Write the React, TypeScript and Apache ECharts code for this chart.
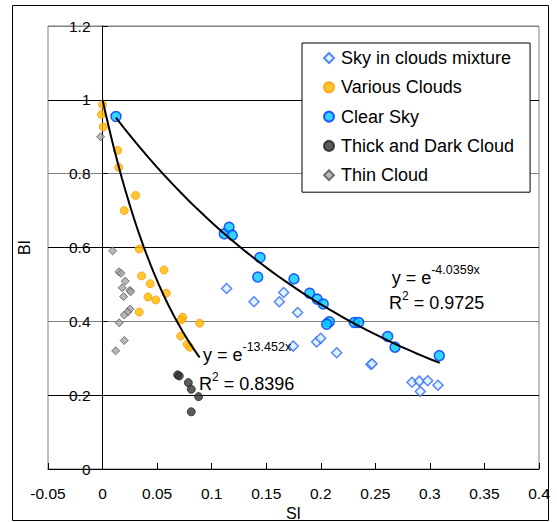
import React, { useEffect, useRef } from "react";
import * as echarts from "echarts";

// ---- data ----
const skyInCloudsMixture: [number, number][] = [
  [0.1137, 0.489], [0.1388, 0.453], [0.162, 0.453], [0.166, 0.478], [0.1788, 0.424],
  [0.1748, 0.333], [0.1962, 0.344], [0.1999, 0.354], [0.2146, 0.315], [0.246, 0.283],
  [0.247, 0.285], [0.2836, 0.235], [0.2903, 0.238], [0.298, 0.239], [0.3074, 0.227],
  [0.2912, 0.21],
];
const variousClouds: [number, number][] = [
  [0.0, 0.987], [-0.001, 0.96], [0.0006, 0.927], [0.0138, 0.863], [0.0148, 0.817],
  [0.0303, 0.741], [0.0199, 0.7], [0.0336, 0.596], [0.0358, 0.523], [0.0563, 0.539],
  [0.0437, 0.502], [0.0584, 0.476], [0.0416, 0.466], [0.0487, 0.458], [0.0336, 0.425],
  [0.0734, 0.411], [0.0721, 0.404], [0.089, 0.395], [0.0716, 0.36], [0.0776, 0.338],
  [0.0798, 0.33],
];
const clearSky: [number, number][] = [
  [0.0123, 0.955], [0.1116, 0.637], [0.116, 0.655], [0.1189, 0.633], [0.1443, 0.573],
  [0.1422, 0.52], [0.1754, 0.515], [0.1898, 0.476], [0.1968, 0.46], [0.2023, 0.447],
  [0.2078, 0.399], [0.2054, 0.392], [0.2307, 0.397], [0.2347, 0.397], [0.2613, 0.359],
  [0.268, 0.33], [0.3086, 0.307],
];
const thickDarkCloud: [number, number][] = [
  [0.0688, 0.255], [0.0703, 0.252], [0.0786, 0.234], [0.0813, 0.216], [0.088, 0.196],
  [0.0813, 0.155],
];
const thinCloud: [number, number][] = [
  [-0.0018, 0.9], [0.0092, 0.591], [0.015, 0.534], [0.0169, 0.53], [0.0208, 0.509],
  [0.018, 0.491], [0.0251, 0.484], [0.0257, 0.48], [0.0193, 0.467], [0.0251, 0.433],
  [0.023, 0.425], [0.0199, 0.417], [0.0153, 0.396], [0.0199, 0.348], [0.012, 0.32],
];

const seriesNames = [
  "Sky in clouds mixture",
  "Various Clouds",
  "Clear Sky",
  "Thick and Dark Cloud",
  "Thin Cloud",
];

const xAxisRange = { min: -0.05, max: 0.4, interval: 0.05 };
const yAxisRange = { min: 0, max: 1.2, interval: 0.2 };

// exponential trendlines y = e^(k x), as labelled on the chart
const trendVarious = { k: -13.452, from: 0, to: 0.089, eq: "-13.452x", r2: "0.8396" };
const trendClear = { k: -4.0359, from: 0.0123, to: 0.309, eq: "-4.0359x", r2: "0.9725" };

function trendPoints(t: { k: number; from: number; to: number }): [number, number][] {
  const pts: [number, number][] = [];
  const n = 40;
  for (let i = 0; i <= n; i++) {
    const x = t.from + ((t.to - t.from) * i) / n;
    pts.push([x, Math.exp(t.k * x)]);
  }
  return pts;
}

const FONT = "'Liberation Sans', Arial, sans-serif";

// plot area in pixels
const GRID_LEFT = 48;
const GRID_WIDTH = 491;
// distance from the grid's left edge to x = 0, where the y axis is drawn
const Y_AXIS_SHIFT =
  (GRID_WIDTH * (0 - xAxisRange.min)) / (xAxisRange.max - xAxisRange.min);

function txt(text: string, x: number, y: number, size: number) {
  return {
    type: "text",
    x,
    y,
    z: 100,
    style: {
      text,
      fontSize: size,
      fontFamily: FONT,
      fill: "#000",
      align: "left",
      verticalAlign: "middle",
    },
  };
}

export default function App() {
  const ref = useRef<HTMLDivElement>(null);

  useEffect(() => {
    if (!ref.current) return;
    const chart = echarts.init(ref.current, undefined, { renderer: "svg" });
    const option: any = {
      animation: false,
      backgroundColor: "#fff",
      textStyle: { fontFamily: FONT },
      grid: {
        left: GRID_LEFT,
        top: 26,
        width: GRID_WIDTH,
        height: 443,
        containLabel: false,
        outerBoundsMode: "none",
        show: true,
        borderColor: "#808080",
        borderWidth: 1,
        backgroundColor: "transparent",
      },
      legend: {
        orient: "vertical",
        left: 302,
        top: 43,
        data: seriesNames,
        backgroundColor: "#fff",
        borderColor: "#000",
        borderWidth: 1,
        borderRadius: 0,
        padding: [5, 16, 7, 21],
        itemWidth: 10,
        itemHeight: 10,
        itemGap: 9.3,
        textStyle: {
          fontSize: 18,
          fontFamily: FONT,
          color: "#000",
          lineHeight: 20,
          padding: [0, 0, 0, 2],
        },
      },
      xAxis: {
        type: "value",
        min: xAxisRange.min,
        max: xAxisRange.max,
        interval: xAxisRange.interval,
        name: "SI",
        nameLocation: "middle",
        nameGap: 30,
        nameTextStyle: { fontSize: 16, fontFamily: FONT, color: "#000" },
        axisLine: { show: true, onZero: false, lineStyle: { color: "#000", width: 1 } },
        axisTick: { show: true, inside: true, length: 6, lineStyle: { color: "#000" } },
        axisLabel: { fontSize: 15.5, fontFamily: FONT, color: "#000", margin: 16 },
        splitLine: { show: false },
      },
      yAxis: {
        type: "value",
        min: yAxisRange.min,
        max: yAxisRange.max,
        interval: yAxisRange.interval,
        position: "left",
        offset: -Y_AXIS_SHIFT,
        name: "BI",
        nameLocation: "middle",
        nameGap: 70,
        nameTextStyle: { fontSize: 16, fontFamily: FONT, color: "#000" },
        axisLine: { show: true, onZero: false, lineStyle: { color: "#000", width: 1 } },
        axisTick: { show: true, inside: true, length: 5, lineStyle: { color: "#000" } },
        axisLabel: { fontSize: 15.5, fontFamily: FONT, color: "#000", margin: 12 },
        splitLine: {
          show: true,
          lineStyle: { color: ["#808080", "#000000"], width: 1 },
        },
      },
      series: [
        {
          name: seriesNames[0],
          type: "scatter",
          data: skyInCloudsMixture,
          symbol: "diamond",
          symbolSize: 10,
          itemStyle: { color: "#D5F3FF", borderColor: "#3366FF", borderWidth: 1.5 },
          z: 2,
        },
        {
          name: seriesNames[1],
          type: "scatter",
          data: variousClouds,
          symbol: "circle",
          symbolSize: 8,
          itemStyle: { color: "#FFBA00", borderColor: "#FF9900", borderWidth: 1 },
          z: 3,
        },
        {
          name: seriesNames[2],
          type: "scatter",
          data: clearSky,
          symbol: "circle",
          symbolSize: 10,
          itemStyle: { color: "#00C8FF", borderColor: "#0033FF", borderWidth: 1.5 },
          z: 4,
        },
        {
          name: seriesNames[3],
          type: "scatter",
          data: thickDarkCloud,
          symbol: "circle",
          symbolSize: 8,
          itemStyle: { color: "#333333", borderColor: "#222222", borderWidth: 1 },
          z: 5,
        },
        {
          name: seriesNames[4],
          type: "scatter",
          data: thinCloud,
          symbol: "diamond",
          symbolSize: 8,
          itemStyle: { color: "#A6A6A6", borderColor: "#555555", borderWidth: 1 },
          z: 6,
        },
        {
          name: "trend various",
          type: "line",
          data: trendPoints(trendVarious),
          showSymbol: false,
          symbol: "none",
          lineStyle: { color: "#000", width: 2 },
          z: 10,
          silent: true,
        },
        {
          name: "trend clear",
          type: "line",
          data: trendPoints(trendClear),
          showSymbol: false,
          symbol: "none",
          lineStyle: { color: "#000", width: 2 },
          z: 10,
          silent: true,
        },
      ],
      graphic: [
        {
          type: "rect",
          shape: { x: 12.5, y: 5.5, width: 536, height: 515 },
          style: { fill: "none", stroke: "#000", lineWidth: 1 },
          silent: true,
          z: -10,
        },
        txt("y = e", 203, 355, 18),
        txt(trendVarious.eq, 242.5, 347, 12.5),
        txt("R", 199, 384, 18),
        txt("2", 212, 377, 12),
        txt("= " + trendVarious.r2, 223.7, 384, 18),
        txt("y = e", 391.7, 278, 18),
        txt(trendClear.eq, 431.2, 270, 12.5),
        txt("R", 389, 303, 18),
        txt("2", 402, 296, 12),
        txt("= " + trendClear.r2, 413.7, 303, 18),
      ],
    };
    chart.setOption(option);
    return () => chart.dispose();
  }, []);

  return (
    <div
      ref={ref}
      style={{ position: "absolute", left: 0, top: 0, width: 557, height: 522 }}
    />
  );
}
